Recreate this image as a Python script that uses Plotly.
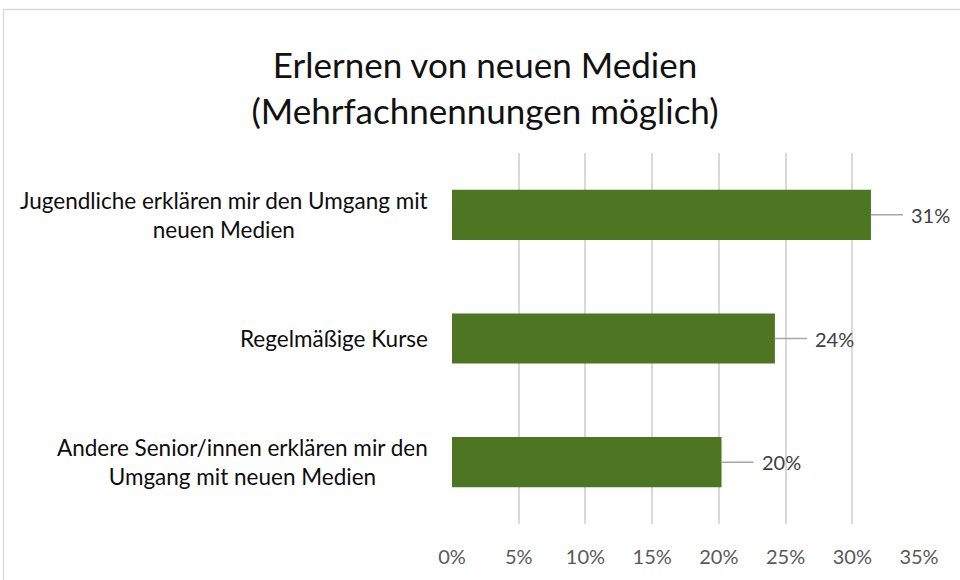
import plotly.graph_objects as go

categories = [
    "Andere Senior/innen erklären mir den<br>Umgang mit neuen Medien",
    "Regelmäßige Kurse",
    "Jugendliche erklären mir den Umgang mit<br>neuen Medien",
]
values = [20.2, 24.2, 31.4]
value_labels = ["20%", "24%", "31%"]
tick_vals = [0, 5, 10, 15, 20, 25, 30, 35]
tick_text = ["0%", "5%", "10%", "15%", "20%", "25%", "30%", "35%"]

W, H = 960, 580
ML, MR, MT, MB = 452, 41, 153, 56
FONT = "Lato, Carlito, Calibri, sans-serif"
pw, ph = W - ML - MR, H - MT - MB

fig = go.Figure(go.Bar(
    y=categories, x=values, orientation="h",
    marker=dict(color="#4E7522", line=dict(width=0)),
    width=0.405, hoverinfo="skip",
))

# data labels with leader lines
for c, v, t in zip(categories, values, value_labels):
    fig.add_annotation(
        x=v, y=c, xref="x", yref="y", text=t, showarrow=True,
        arrowhead=0, arrowwidth=1.5, arrowcolor="#A6A6A6",
        ax=60, ay=0, borderpad=8,
        font=dict(family=FONT, size=20, color="#404040"),
    )

# category labels (centered multi-line, right edge near the axis)
for c in categories:
    fig.add_annotation(
        x=-22 / pw, y=c, xref="paper", yref="y", text=c, showarrow=False,
        xanchor="right", yanchor="middle", align="center",
        font=dict(family=FONT, size=22.5, color="#0D0D0D"),
    )

# chart border
fig.add_shape(type="rect", xref="paper", yref="paper",
              x0=(3.5 - ML) / pw, x1=(W + 20 - ML) / pw,
              y0=-(MB + 20) / ph, y1=(H - MB - 9.5) / ph,
              line=dict(color="#D9D9D9", width=1.3), layer="below")

fig.update_layout(
    width=W, height=H,
    margin=dict(l=ML, r=MR, t=MT, b=MB, pad=0),
    paper_bgcolor="white", plot_bgcolor="white",
    showlegend=False,
    title=dict(text="Erlernen von neuen Medien<br>(Mehrfachnennungen möglich)",
               x=485 / W, xanchor="center", xref="container",
               y=1 - 78 / H, yanchor="middle", yref="container",
               font=dict(family=FONT, size=35, color="#111111")),
    xaxis=dict(range=[0, 35], tickvals=tick_vals, ticktext=tick_text,
               showgrid=True, gridcolor="#D9D9D9", gridwidth=1.5,
               zeroline=False, showline=False, ticks="",
               ticklabelstandoff=19,
               tickfont=dict(family=FONT, size=20, color="#595959")),
    yaxis=dict(showgrid=False, zeroline=False, showline=False, ticks="",
               showticklabels=False),
)

fig.write_html(
    "out.html",
    config={"displayModeBar": False},
    post_script="document.body.style.margin='0';document.body.style.overflow='hidden';",
)
